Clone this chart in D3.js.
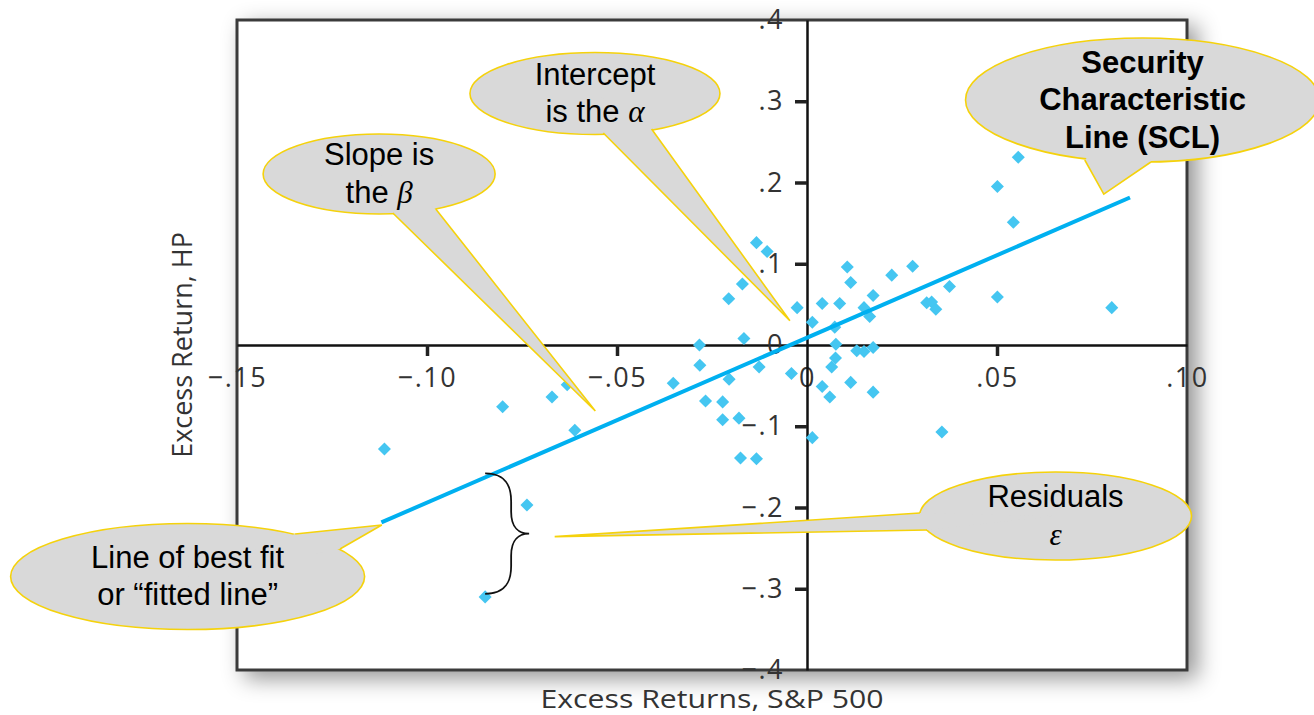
<!DOCTYPE html>
<html>
<head>
<meta charset="utf-8">
<script src="https://cdn.jsdelivr.net/npm/d3@7"></script>
<style>
  body { margin: 0; background: #fff; }
  svg { display: block; }
</style>
</head>
<body>
<div id="chart"></div>
<script>
// tick values and labels
const xTicks = [-0.15, -0.10, -0.05, 0, 0.05, 0.10];
const xTickLabels = ["\u2212.15", "\u2212.10", "\u2212.05", "0", ".05", ".10"];
const yTicks = [-0.4, -0.3, -0.2, -0.1, 0, 0.1, 0.2, 0.3, 0.4];
const yTickLabels = ["\u2212.4", "\u2212.3", "\u2212.2", "\u2212.1", "0", ".1", ".2", ".3", ".4"];

// excess returns, S&P 500 (x) vs HP (y)
const spReturns = [0.0556, 0.0501, 0.0543, 0.0106, 0.0115, 0.0223, 0.0278, 0.0375, 0.0174, 0.0086,
  0.0040, 0.0150, 0.0165, 0.0315, 0.0328, 0.0339, 0.0501, 0.0802, 0.0073, 0.0076,
  0.0131, 0.0150, 0.0174, 0.0075, 0.0065, 0.0115, 0.0174, 0.0040, 0.0060, 0.0355,
  -0.0133, -0.0105, -0.0170, -0.0206, -0.0026, 0.0014, -0.0283, -0.0166, -0.0282, -0.0352,
  -0.0205, -0.0126, -0.0041, -0.0267, -0.0222, -0.0222, -0.0179, -0.0175, -0.0133, 0.0014,
  -0.1112, -0.0801, -0.0671, -0.0631, -0.0611, -0.0737, -0.0847];
const hpReturns = [0.231, 0.195, 0.151, 0.096, 0.077, 0.086, 0.097, 0.072, 0.061, 0.051,
  0.051, 0.046, 0.035, 0.052, 0.053, 0.044, 0.059, 0.046, 0.022, 0.001,
  -0.007, -0.008, -0.003, -0.016, -0.027, -0.046, -0.058, -0.051, -0.064, -0.107,
  0.126, 0.115, 0.075, 0.057, 0.046, 0.028, 0.000, 0.008, -0.025, -0.047,
  -0.042, -0.027, -0.035, -0.069, -0.070, -0.092, -0.090, -0.139, -0.140, -0.114,
  -0.128, -0.076, -0.064, -0.049, -0.105, -0.197, -0.310];

// fitted SCL
const alpha = 0.009;
const beta = 2.03;
const fitRange = [-0.112, 0.085];
const residualIndex = 56; // point marked with the brace

const width = 1314, height = 715;
const box = { left: 237, right: 1187, top: 20, bottom: 670 };
const axisFont = "'Open Sans', sans-serif";

const svg = d3.select("#chart").append("svg")
    .attr("width", width)
    .attr("height", height);

const defs = svg.append("defs");
const shadow = defs.append("filter")
    .attr("id", "shadow")
    .attr("x", "-10%").attr("y", "-10%")
    .attr("width", "125%").attr("height", "125%");
shadow.append("feDropShadow")
    .attr("dx", 9).attr("dy", 7)
    .attr("stdDeviation", 11)
    .attr("flood-color", "#000")
    .attr("flood-opacity", 0.42);

var x = d3.scaleLinear().domain([-0.15, 0.10]).range([box.left, box.right]);
var y = d3.scaleLinear().domain([-0.4, 0.4]).range([box.bottom, box.top]);

// plot frame with shadow
svg.append("rect")
    .attr("x", box.left).attr("y", box.top)
    .attr("width", box.right - box.left)
    .attr("height", box.bottom - box.top)
    .attr("fill", "#fff")
    .attr("stroke", "#3a3a3a")
    .attr("stroke-width", 3)
    .attr("filter", "url(#shadow)");

// axes through the origin
var xAxis = svg.append("g")
    .attr("transform", "translate(0," + y(0) + ")")
    .call(d3.axisBottom(x)
        .tickValues(xTicks)
        .tickFormat((d, i) => xTickLabels[i])
        .tickSize(11)
        .tickSizeOuter(0)
        .tickPadding(12));

var yAxis = svg.append("g")
    .attr("transform", "translate(" + x(0) + ",0)")
    .call(d3.axisLeft(y)
        .tickValues(yTicks)
        .tickFormat((d, i) => yTickLabels[i])
        .tickSize(12)
        .tickSizeOuter(0)
        .tickPadding(11));

[xAxis, yAxis].forEach(g => {
    g.select(".domain").attr("stroke", "#111").attr("stroke-width", 2.5);
    g.selectAll(".tick line").attr("stroke", "#222").attr("stroke-width", 3.5);
    g.selectAll(".tick text")
        .attr("fill", "#333")
        .style("font-family", axisFont)
        .style("font-size", "27px")
        .style("letter-spacing", "1.5px");
});
// hide ticks that sit on the frame or on the other axis
xAxis.selectAll(".tick line").filter(d => d === 0 || d === -0.15 || d === 0.10).remove();
yAxis.selectAll(".tick line").filter(d => d === 0 || d === 0.4 || d === -0.4).remove();

// axis titles
svg.append("text")
    .attr("x", 712)
    .attr("y", 708)
    .attr("text-anchor", "middle")
    .attr("fill", "#333")
    .attr("textLength", 343)
    .attr("lengthAdjust", "spacingAndGlyphs")
    .style("font-family", axisFont)
    .style("font-size", "26px")
    .text("Excess Returns, S&P 500");

svg.append("text")
    .attr("transform", "translate(192," + ((box.top + box.bottom) / 2) + ") rotate(-90)")
    .attr("text-anchor", "middle")
    .attr("fill", "#333")
    .style("font-family", axisFont)
    .style("font-size", "27px")
    .text("Excess Return, HP");

// scatter points
var pts = spReturns.map((d, i) => ({ x: d, y: hpReturns[i] }));
svg.append("g").selectAll("path")
    .data(pts)
    .enter().append("path")
    .attr("d", d3.symbol().type(d3.symbolSquare).size(85))
    .attr("transform", d => "translate(" + x(d.x) + "," + y(d.y) + ") rotate(45)")
    .attr("fill", "#45c6f1");

// fitted line
svg.append("line")
    .attr("x1", x(fitRange[0])).attr("y1", y(alpha + beta * fitRange[0]))
    .attr("x2", x(fitRange[1])).attr("y2", y(alpha + beta * fitRange[1]))
    .attr("stroke", "#00b0f0")
    .attr("stroke-width", 4);

// brace between fitted value and the point
var rp = pts[residualIndex];
var bx = x(rp.x), by0 = y(alpha + beta * rp.x) - 4, by1 = y(rp.y) - 3;
var bm = (by0 + by1) / 2, bw = 44;
svg.append("path")
    .attr("d", "M" + bx + "," + by0 +
        " C" + (bx + 22) + "," + by0 + " " + (bx + 26) + "," + (by0 + 14) + " " + (bx + 26) + "," + (by0 + 28) +
        " L" + (bx + 26) + "," + (bm - 22) +
        " C" + (bx + 26) + "," + (bm - 6) + " " + (bx + 34) + "," + bm + " " + (bx + bw) + "," + bm +
        " C" + (bx + 34) + "," + bm + " " + (bx + 26) + "," + (bm + 6) + " " + (bx + 26) + "," + (bm + 22) +
        " L" + (bx + 26) + "," + (by1 - 28) +
        " C" + (bx + 26) + "," + (by1 - 14) + " " + (bx + 22) + "," + by1 + " " + bx + "," + by1)
    .attr("fill", "none")
    .attr("stroke", "#111")
    .attr("stroke-width", 1.8);

// callouts: centre, tail base and tip in data units, radii in px
const callouts = [
    { lines: [["Intercept"], ["is the ", "α"]], c: [-0.0558, 0.3095], rx: 125, ry: 41,
      tail: [[-0.0536, 0.2609], [-0.0045, 0.0299], [-0.0409, 0.2658]], bold: false },
    { lines: [["Slope is"], ["the ", "β"]], c: [-0.1126, 0.2105], rx: 116, ry: 40,
      tail: [[-0.1090, 0.1625], [-0.0557, -0.0812], [-0.0977, 0.1674]], bold: false },
    { lines: [["Security"], ["Characteristic"], ["Line (SCL)"]], c: [0.0883, 0.3015], rx: 177, ry: 62,
      tail: [[0.0731, 0.2277], [0.0781, 0.1858], [0.0905, 0.2252]], bold: true },
    { lines: [["Residuals"], ["", "ε"]], c: [0.0654, -0.2105], rx: 136, ry: 44,
      tail: [[0.0297, -0.2068], [-0.0664, -0.2359], [0.0316, -0.2277]], bold: false },
    { lines: [["Line of best fit"], ["or \u201cfitted line\u201d"]], c: [-0.1630, -0.2850], rx: 177, ry: 53,
      tail: [[-0.1347, -0.2326], [-0.1119, -0.2215], [-0.1229, -0.2511]], bold: false }
];

var cg = svg.append("g").selectAll("g")
    .data(callouts)
    .enter().append("g");

cg.append("ellipse")
    .attr("cx", d => x(d.c[0])).attr("cy", d => y(d.c[1]))
    .attr("rx", d => d.rx).attr("ry", d => d.ry)
    .attr("fill", "#d9d9d9")
    .attr("stroke", "#f5d20c")
    .attr("stroke-width", 1.6);

cg.append("path")
    .attr("d", d => "M" + d.tail.map(p => x(p[0]) + "," + y(p[1])).join("L") +
        "L" + x(d.c[0]) + "," + y(d.c[1]) + "Z")
    .attr("fill", "#d9d9d9");

cg.append("path")
    .attr("d", d => "M" + d.tail.map(p => x(p[0]) + "," + y(p[1])).join("L"))
    .attr("fill", "none")
    .attr("stroke", "#f5d20c")
    .attr("stroke-width", 1.6);

cg.each(function(d) {
    var g = d3.select(this);
    var n = d.lines.length;
    d.lines.forEach((ln, i) => {
        var t = g.append("text")
            .attr("x", x(d.c[0]))
            .attr("y", y(d.c[1]) + 10 + (i - (n - 1) / 2) * 37.5)
            .attr("text-anchor", "middle")
            .attr("fill", "#000")
            .style("font-family", "'Liberation Sans', Arial, sans-serif")
            .style("font-size", "31px")
            .style("font-weight", d.bold ? "bold" : "normal");
        t.append("tspan").text(ln[0]);
        if (ln[1]) {
            t.append("tspan")
                .style("font-family", "'Liberation Serif', serif")
                .style("font-style", "italic")
                .text(ln[1]);
        }
    });
});
</script>
</body>
</html>
